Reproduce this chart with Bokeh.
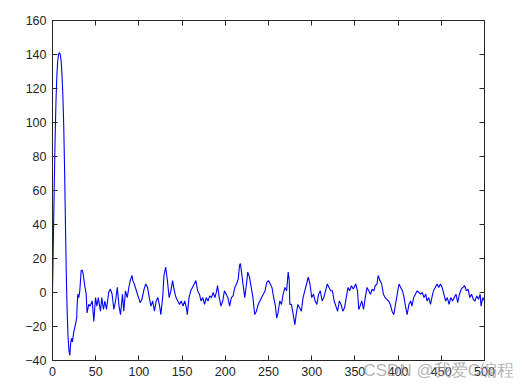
from bokeh.plotting import figure
from bokeh.models import LinearAxis, Range1d, FixedTicker, Title
from bokeh.embed import file_html
from bokeh.resources import INLINE

# --- data ---
seg_a_x = [0, 1, 2, 3, 4, 5, 6, 7, 8, 9, 10, 11, 12, 13, 14, 15, 16, 17, 18, 19, 20, 21, 22, 23]
seg_a_y = [0, 30, 62, 90, 112, 127, 136, 140, 141, 140, 136, 128, 116, 98, 72, 40, 10, -12, -26, -34, -37, -30, -27, -29]

seg_b_x = [24.7, 26.5, 28, 28.5, 29.3, 30.4, 31.6, 33.2, 34.5, 35.5, 37, 39, 40, 42, 43.5, 46, 47.8, 49.8, 51.4, 53, 55.5, 57, 59, 60.6, 62.5]
seg_b_y = [-23, -19, -15, -8, -1, -3, 1, 13, 13, 11, 5, -1, -12, -7, -8, -5, -17, -3, -8, -3, -11, -3, -10, -5, -10]

seg_c_x = [65, 67, 69, 71, 73, 75, 77, 78.7, 81, 82.5, 84.5, 86.5, 88.4, 90, 92, 93, 94.7, 97.7, 99.6, 101.5]
seg_c_y = [0, 2, -1, -10, -5, 3, -8, -13, -1, -11, 1, -3, 3, 7, 10, 7, 5, 0, -3, -6]

seg_d_x = [103.5, 106, 108, 110, 112, 114, 116, 118, 120, 122, 124, 125.4, 127.5, 129, 131, 133, 135, 137, 139, 141,
           143, 145, 147, 149, 151, 153, 155, 156, 158, 160, 162, 164, 166, 168, 170, 172, 174, 176, 178, 180,
           182, 184, 186, 188, 190]
seg_d_y = [-4, 2, 5, 3, -3, -8, -5, -11, -5, -3, -8, -13, -3, 10, 15, 7, -3, 1, 7, 1,
           -3, -5, -7, -5, -8, -5, -9, -13, -3, 1, 3, 5, 7, 1, -1, -5, -3, -7, -3, -5,
           -2, -3, 0, -3, 1]

seg_e_x = [191, 193, 195, 197, 199, 201, 203, 205, 207, 209, 211, 213, 215, 216.5, 217.5, 218.5, 220.5, 222.5, 224.5, 226,
           228, 230, 232, 234, 236, 238, 240, 242, 244, 246, 248, 250, 252, 254, 256, 258, 259.5, 261, 263, 265,
           267, 269, 271]
seg_e_y = [4, -3, -8, -5, 1, -1, -3, -8, -3, -2, 3, 5, 8, 16, 17, 13, 5, -3, 5, 12,
           9, 3, -3, -13, -11, -7, -5, -3, -1, 1, 6, 7, 5, 3, -3, -8, -15, -12, -5, -7,
           -1, 3, 1]

seg_f_x = [272.8, 274, 274.7, 276.5, 278, 280.5, 282, 284, 286, 288, 290, 292, 294, 296, 298, 300, 302, 304, 306, 308,
           310, 312, 314, 316, 318, 320, 322, 324, 326, 328, 330, 332, 334, 336, 338, 340, 342, 344, 346, 348,
           349, 351, 353]
seg_f_y = [12, 7, -7, -7, -11, -19, -13, -7, -9, -11, -3, 1, 5, 9, 5, -3, -1, -5, -7, -1,
           1, -5, -3, 1, 5, 3, 1, 1, -5, -8, -11, -5, -7, -11, -9, -3, 3, 1, 4, 2,
           3, 5, 1]

seg_g_x = [354.5, 356, 358, 360, 362, 364, 366, 368, 370, 372, 373.5, 375.5, 377, 379, 381, 383, 385, 387, 389, 391,
           393, 395, 397, 399, 401, 403, 405, 407, 408.5, 410.5, 412.5, 414.5, 416, 418, 420, 422, 424, 426, 428, 430,
           432, 433.5, 435.5, 437.5]
seg_g_y = [-10, -8, -5, -10, -3, 3, 1, -1, 2, 1, 4, 5, 10, 7, 5, -1, -3, -4, -5, -7,
           -11, -13, -7, -1, 5, 3, 1, -3, -8, -13, -7, -5, -8, -3, -1, 1, 0, -1, 0, -3,
           -1, -5, -3, -7]

seg_h_x = [439.5, 441, 443, 445, 447, 449, 451, 453, 455, 457, 459, 461, 463, 465, 467, 469, 471, 473, 475, 477,
           479, 481, 483, 485, 487, 489, 491, 493, 495, 496, 498, 500]
seg_h_y = [-2, 1, 3, 5, 3, 5, 3, -1, -5, -3, -7, -3, -5, -3, -1, -6, -1, 2, 3, 4,
           1, 2, -3, -1, -4, -5, -2, -4, -1, -8, -3, -5]

x_ticks = [0, 50, 100, 150, 200, 250, 300, 350, 400, 450, 500]
y_ticks = [-40, -20, 0, 20, 40, 60, 80, 100, 120, 140, 160]
watermark = "CSDN @我爱C编程"

xs = seg_a_x + seg_b_x + seg_c_x + seg_d_x + seg_e_x + seg_f_x + seg_g_x + seg_h_x
ys = seg_a_y + seg_b_y + seg_c_y + seg_d_y + seg_e_y + seg_f_y + seg_g_y + seg_h_y

FONT = "Liberation Sans"
AX_COLOR = "#262626"

p = figure(width=525, height=391, x_range=Range1d(0, 500), y_range=Range1d(-40, 160),
           output_backend="svg", toolbar_location=None,
           min_border_left=52, min_border_right=41, min_border_top=20, min_border_bottom=31,
           x_axis_location=None, y_axis_location=None)
p.grid.visible = False
p.outline_line_color = AX_COLOR
p.outline_line_width = 1
p.background_fill_color = "white"
p.border_fill_color = "white"

p.line(xs, ys, line_color="#0000ff", line_width=1.1)


def style(ax, ticks, show_labels):
    ax.ticker = FixedTicker(ticks=ticks)
    ax.axis_line_color = AX_COLOR
    ax.major_tick_line_color = AX_COLOR
    ax.major_tick_in = 5
    ax.major_tick_out = 0
    ax.minor_tick_line_color = None
    ax.major_label_text_font = FONT
    ax.major_label_text_color = AX_COLOR
    ax.major_label_text_font_size = "12.5px"
    if show_labels:
        ax.major_label_standoff = 6
    else:
        ax.major_label_overrides = {t: "" for t in ticks}
        ax.major_label_standoff = 0


bx = LinearAxis()
style(bx, x_ticks, True)
p.add_layout(bx, "below")
tx = LinearAxis()
style(tx, x_ticks, False)
p.add_layout(tx, "above")
ly = LinearAxis()
style(ly, y_ticks, True)
p.add_layout(ly, "left")
ry = LinearAxis()
style(ry, y_ticks, False)
p.add_layout(ry, "right")

# watermark, drawn in the band of the x tick labels
wm = Title(text=watermark, align="left", offset=311, vertical_align="top",
           standoff=-35, text_font=FONT, text_font_size="17px",
           text_font_style="normal", text_color="#9a9a9a", text_alpha=0.75)
p.add_layout(wm, "below")

open("out.html", "w").write(file_html(p, INLINE))
